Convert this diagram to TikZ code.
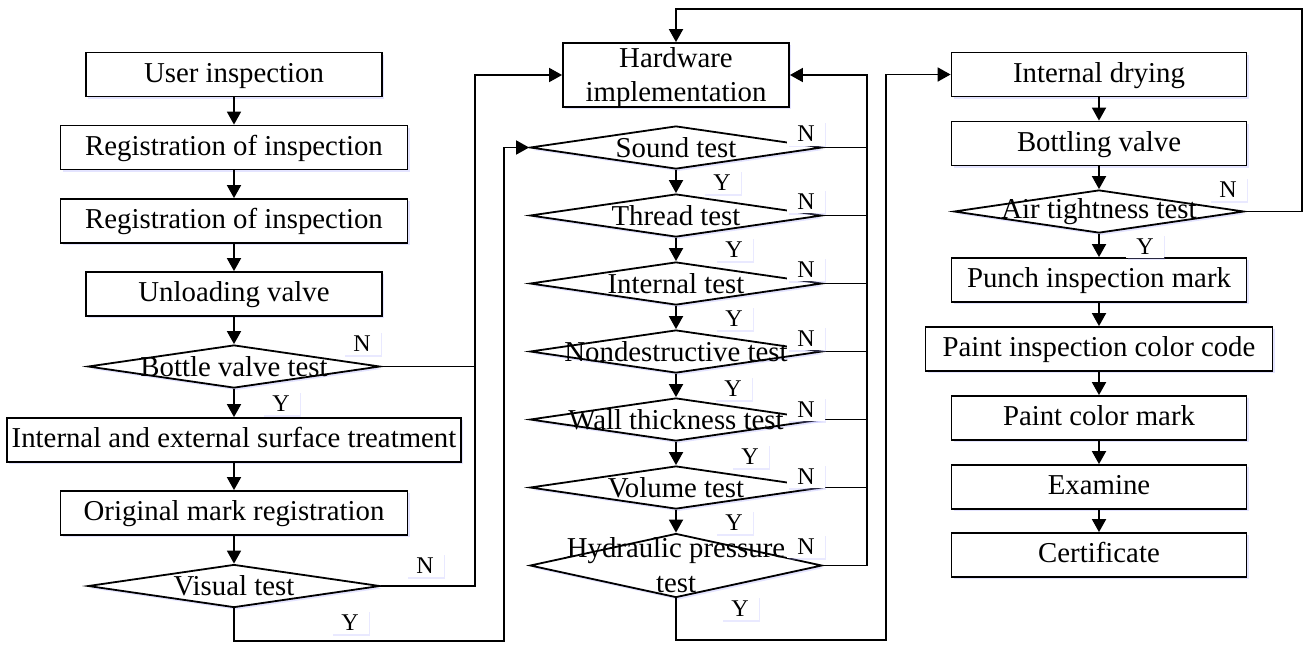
\documentclass[tikz,border=0pt]{standalone}
\usepackage{fontspec}
\setmainfont{Liberation Serif}
\usetikzlibrary{shapes.geometric,arrows.meta,shadows}

\begin{document}
\begin{tikzpicture}[x=0.5pt,y=-0.5pt,
  font=\fontsize{14.4}{17}\selectfont,
  sh/.style={drop shadow={shadow xshift=1pt,shadow yshift=-1.2pt,fill=blue!35!white,opacity=0.3}},
  box/.style={draw,line width=0.9pt,fill=white,sh,minimum width=#1,minimum height=22pt,inner sep=0pt,
    text height=10pt,text depth=2.5pt},
  dia/.style={diamond,draw,line width=0.9pt,fill=white,sh,minimum width=146pt,minimum height=21.5pt,inner sep=0pt},
  yn/.style={fill=white,inner xsep=5pt,inner ysep=2pt,text height=8pt,text depth=0pt,
    font=\fontsize{12}{13}\selectfont,
    drop shadow={shadow xshift=0.8pt,shadow yshift=-0.8pt,fill=blue!35!white,opacity=0.25}},
  arr/.style={line width=0.9pt,-{Triangle[length=6.5pt,width=7pt]}},
  ln/.style={line width=0.9pt}]
\useasboundingbox (0,0) rectangle (1306,644);

% bus columns for the feedback lines
\coordinate (busL) at (475,0);
\coordinate (busY) at (504,641);
\coordinate (busR) at (867,0);
\coordinate (busD) at (886,640);
\coordinate (loopTR) at (1302,9);

% ---- left column
\node[box=148pt] (user) at (234,74.5) {User inspection};
\node[box=173.5pt] (reg1) at (234,147.5) {Registration of inspection};
\node[box=173.5pt] (reg2) at (234,221) {Registration of inspection};
\node[box=148pt] (unload) at (234,294) {Unloading valve};
\node[dia,label={center:Bottle valve test}] (bottle) at (234,366.5) {};
\node[box=227pt] (surface) at (234,440) {Internal and external surface treatment};
\node[box=173.5pt] (orig) at (234,513) {Original mark registration};
\node[dia,label={center:Visual test}] (visual) at (234,586) {};

% ---- middle column
\node[draw,line width=0.9pt,fill=white,sh,minimum width=113pt,minimum height=32pt,inner sep=0pt,
  label={[align=center,yshift=-1.5pt]center:Hardware\\implementation}] (hw) at (676,75) {};
\node[dia,label={center:Sound test}] (sound) at (676,147.5) {};
\node[dia,label={center:Thread test}] (thread) at (676,215.5) {};
\node[dia,label={center:Internal test}] (internal) at (676,283.5) {};
\node[dia,label={center:Nondestructive test}] (ndt) at (676,351.5) {};
\node[dia,label={center:Wall thickness test}] (wall) at (676,419.5) {};
\node[dia,label={center:Volume test}] (volume) at (676,487.5) {};
\node[dia,minimum height=32pt,label={[align=center,font=\fontsize{14.4}{17.5}\selectfont]center:Hydraulic pressure\\test}] (hydro) at (676,565.5) {};

% ---- right column
\node[box=147.5pt] (dry) at (1099,74.5) {Internal drying};
\node[box=147.5pt] (bottling) at (1099,143.5) {Bottling valve};
\node[dia,minimum width=145pt,label={center:Air tightness test}] (air) at (1099,211.5) {};
\node[box=147.5pt] (punch) at (1099,280) {Punch inspection mark};
\node[box=173.5pt] (paintcode) at (1099,349) {Paint inspection color code};
\node[box=147.5pt] (paintmark) at (1099,418) {Paint color mark};
\node[box=147.5pt] (examine) at (1099,487) {Examine};
\node[box=147.5pt] (cert) at (1099,555) {Certificate};

% ---- main flow
\draw[arr] (user) -- (reg1);
\draw[arr] (reg1) -- (reg2);
\draw[arr] (reg2) -- (unload);
\draw[arr] (unload) -- (bottle);
\draw[arr] (bottle) -- (surface);
\draw[arr] (surface) -- (orig);
\draw[arr] (orig) -- (visual);

\draw[arr] (sound) -- (thread);
\draw[arr] (thread) -- (internal);
\draw[arr] (internal) -- (ndt);
\draw[arr] (ndt) -- (wall);
\draw[arr] (wall) -- (volume);
\draw[arr] (volume) -- (hydro);

\draw[arr] (dry) -- (bottling);
\draw[arr] (bottling) -- (air);
\draw[arr] (air) -- (punch);
\draw[arr] (punch) -- (paintcode);
\draw[arr] (paintcode) -- (paintmark);
\draw[arr] (paintmark) -- (examine);
\draw[arr] (examine) -- (cert);

% ---- links between columns
\draw[arr] (bottle.east) -- (bottle.east -| busL) |- (hw.west);
\draw[ln] (visual.east) -- (visual.east -| busL) -- (bottle.east -| busL);
\draw[arr] (visual.south) |- (busY) |- (sound.west);

\draw[arr] (hydro.east) -- (hydro.east -| busR) |- (hw.east);
\draw[ln] (sound.east) -- (sound.east -| busR);
\draw[ln] (thread.east) -- (thread.east -| busR);
\draw[ln] (internal.east) -- (internal.east -| busR);
\draw[ln] (ndt.east) -- (ndt.east -| busR);
\draw[ln] (wall.east) -- (wall.east -| busR);
\draw[ln] (volume.east) -- (volume.east -| busR);

\draw[arr] (hydro.south) |- (busD) |- (dry.west);
\draw[arr] (air.east) -| (loopTR) -| (hw.north);

% ---- Y / N tags
\node[yn] (nb) at (362,343) {N};
\node[yn] (yb) at (281,403) {Y};
\node[yn] (nv) at (425,565) {N};
\node[yn] (yv) at (350,622) {Y};

\node[yn] (n1) at (806,133.5) {N};
\node[yn] (n2) at (806,201) {N};
\node[yn] (n3) at (806,269) {N};
\node[yn] (n4) at (806,338) {N};
\node[yn] (n5) at (806,409) {N};
\node[yn] (n6) at (806,476) {N};
\node[yn] (n7) at (806,546) {N};

\node[yn] (y1) at (722,182) {Y};
\node[yn] (y2) at (734,249) {Y};
\node[yn] (y3) at (734,318) {Y};
\node[yn] (y4) at (733,388) {Y};
\node[yn] (y5) at (750,456) {Y};
\node[yn] (y6) at (734,522) {Y};
\node[yn] (y7) at (740,608) {Y};

\node[yn] (na) at (1228,189) {N};
\node[yn] (ya) at (1145,246) {Y};
\end{tikzpicture}
\end{document}
